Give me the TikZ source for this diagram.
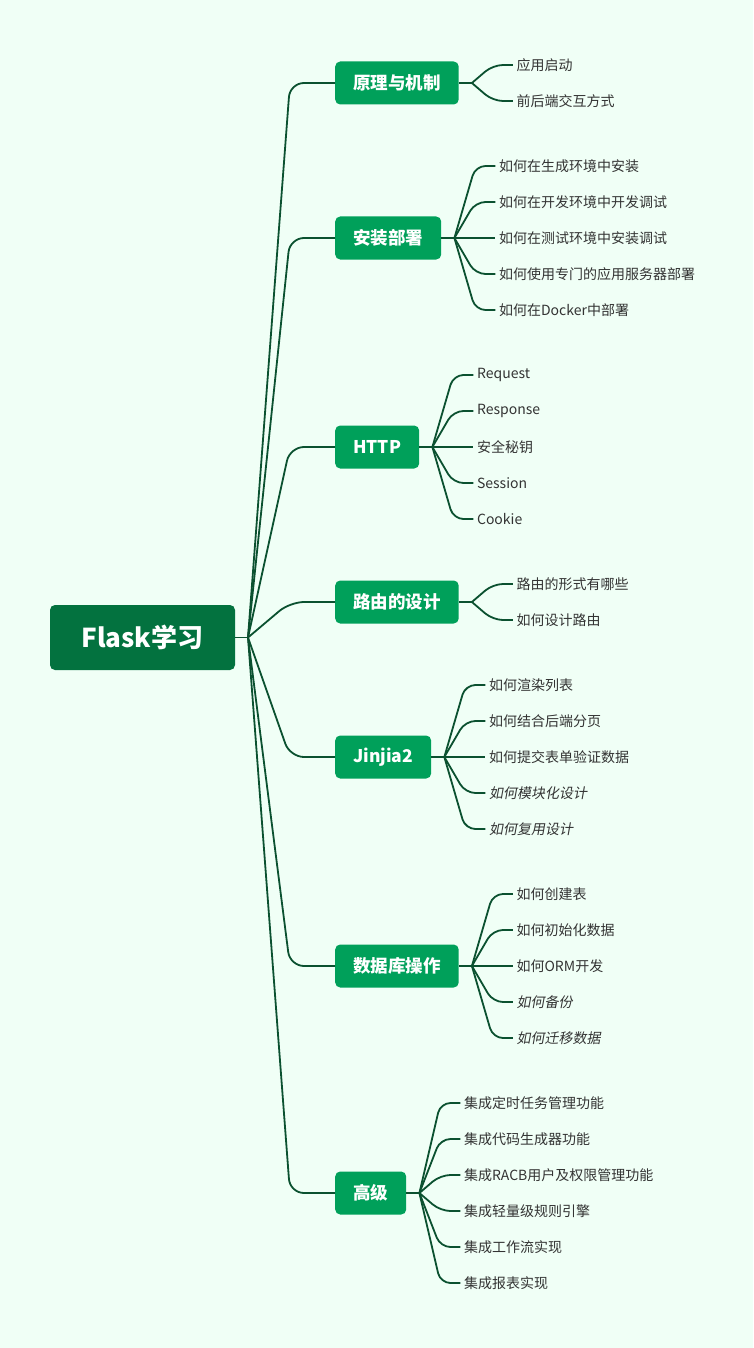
\documentclass[tikz,border=0pt]{standalone}
\usepackage{fontspec}
\setmainfont{Noto Sans CJK SC}
\newfontfamily\slantcjk[FakeSlant=0.18]{Noto Sans CJK SC}

\definecolor{bgmint}{HTML}{F0FFF6}
\definecolor{rootgreen}{HTML}{03723F}
\definecolor{branchgreen}{HTML}{00A05A}
\definecolor{linegreen}{HTML}{0B5130}
\definecolor{leaftext}{HTML}{333333}

\begin{document}
\begin{tikzpicture}[x=1pt,y=-1pt,
    root/.style={fill=rootgreen,rounded corners=5pt,minimum width=185pt,minimum height=65pt,
        text=white,font=\bfseries\fontsize{26}{30}\selectfont},
    branch/.style={fill=branchgreen,rounded corners=5pt,minimum height=43pt,inner xsep=18pt,
        anchor=west,text=white,font=\bfseries\fontsize{17.5}{21}\selectfont},
    leaf/.style={anchor=west,inner xsep=3.5pt,inner ysep=0pt,text=leaftext,
        font=\fontsize{14}{17}\selectfont},
    slant/.style={leaf,font=\slantcjk\fontsize{14}{17}\selectfont}]

    \fill[bgmint] (0,0) rectangle (753,1348);
    \useasboundingbox (0,0) rectangle (753,1348);

    % main topic and branches
    \node[root] (flask) at (142.5,637.5) {Flask学习};
    \coordinate (rj) at (248,637.5);
    \node[branch] (yuanli) at (335,83) {原理与机制};
    \node[branch] (anzhuang) at (335,238) {安装部署};
    \node[branch] (http) at (335,447) {HTTP};
    \node[branch] (luyou) at (335,602) {路由的设计};
    \node[branch] (jinjia) at (335,757) {Jinjia2};
    \node[branch] (shujuku) at (335,966) {数据库操作};
    \node[branch] (gaoji) at (335,1193) {高级};

    \coordinate (yuanlij) at ([xshift=13pt]yuanli.east);
    \coordinate (anzhuangj) at ([xshift=13pt]anzhuang.east);
    \coordinate (httpj) at ([xshift=13pt]http.east);
    \coordinate (luyouj) at ([xshift=13pt]luyou.east);
    \coordinate (jinjiaj) at ([xshift=13pt]jinjia.east);
    \coordinate (shujukuj) at ([xshift=13pt]shujuku.east);
    \coordinate (gaojij) at ([xshift=13pt]gaoji.east);

    % leaves
    \node[leaf] (yuanli1) at ([xshift=41pt]yuanlij |- 0,65) {应用启动};
    \node[leaf] (yuanli2) at ([xshift=41pt]yuanlij |- 0,101) {前后端交互方式};

    \node[leaf] (anzhuang1) at ([xshift=41pt]anzhuangj |- 0,166) {如何在生成环境中安装};
    \node[leaf] (anzhuang2) at ([xshift=41pt]anzhuangj |- 0,202) {如何在开发环境中开发调试};
    \node[leaf] (anzhuang3) at ([xshift=41pt]anzhuangj |- 0,238) {如何在测试环境中安装调试};
    \node[leaf] (anzhuang4) at ([xshift=41pt]anzhuangj |- 0,274) {如何使用专门的应用服务器部署};
    \node[leaf] (anzhuang5) at ([xshift=41pt]anzhuangj |- 0,310) {如何在Docker中部署};

    \node[leaf] (http1) at ([xshift=41pt]httpj |- 0,375) {Request};
    \node[leaf] (http2) at ([xshift=41pt]httpj |- 0,411) {Response};
    \node[leaf] (http3) at ([xshift=41pt]httpj |- 0,447) {安全秘钥};
    \node[leaf] (http4) at ([xshift=41pt]httpj |- 0,483) {Session};
    \node[leaf] (http5) at ([xshift=41pt]httpj |- 0,519) {Cookie};

    \node[leaf] (luyou1) at ([xshift=41pt]luyouj |- 0,584) {路由的形式有哪些};
    \node[leaf] (luyou2) at ([xshift=41pt]luyouj |- 0,620) {如何设计路由};

    \node[leaf] (jinjia1) at ([xshift=41pt]jinjiaj |- 0,685) {如何渲染列表};
    \node[leaf] (jinjia2) at ([xshift=41pt]jinjiaj |- 0,721) {如何结合后端分页};
    \node[leaf] (jinjia3) at ([xshift=41pt]jinjiaj |- 0,757) {如何提交表单验证数据};
    \node[slant] (jinjia4) at ([xshift=41pt]jinjiaj |- 0,793) {如何模块化设计};
    \node[slant] (jinjia5) at ([xshift=41pt]jinjiaj |- 0,829) {如何复用设计};

    \node[leaf] (shujuku1) at ([xshift=41pt]shujukuj |- 0,894) {如何创建表};
    \node[leaf] (shujuku2) at ([xshift=41pt]shujukuj |- 0,930) {如何初始化数据};
    \node[leaf] (shujuku3) at ([xshift=41pt]shujukuj |- 0,966) {如何ORM开发};
    \node[slant] (shujuku4) at ([xshift=41pt]shujukuj |- 0,1002) {如何备份};
    \node[slant] (shujuku5) at ([xshift=41pt]shujukuj |- 0,1038) {如何迁移数据};

    \node[leaf] (gaoji1) at ([xshift=41pt]gaojij |- 0,1103) {集成定时任务管理功能};
    \node[leaf] (gaoji2) at ([xshift=41pt]gaojij |- 0,1139) {集成代码生成器功能};
    \node[leaf] (gaoji3) at ([xshift=41pt]gaojij |- 0,1175) {集成RACB用户及权限管理功能};
    \node[leaf] (gaoji4) at ([xshift=41pt]gaojij |- 0,1211) {集成轻量级规则引擎};
    \node[leaf] (gaoji5) at ([xshift=41pt]gaojij |- 0,1247) {集成工作流实现};
    \node[leaf] (gaoji6) at ([xshift=41pt]gaojij |- 0,1283) {集成报表实现};

    % connectors
    \begin{scope}[draw=linegreen,line width=1.8pt,rounded corners=14pt]
        \draw (flask.east) -- (rj);
        \draw (rj) -- ([xshift=-45pt]yuanli.west) -- (yuanli.west);
        \draw (rj) -- ([xshift=-45pt]anzhuang.west) -- (anzhuang.west);
        \draw (rj) -- ([xshift=-45pt]http.west) -- (http.west);
        \draw (rj) -- ([xshift=-45pt]luyou.west) -- (luyou.west);
        \draw (rj) -- ([xshift=-45pt]jinjia.west) -- (jinjia.west);
        \draw (rj) -- ([xshift=-45pt]shujuku.west) -- (shujuku.west);
        \draw (rj) -- ([xshift=-45pt]gaoji.west) -- (gaoji.west);
    \end{scope}
    \begin{scope}[draw=linegreen,line width=1.8pt,rounded corners=10pt]
        \draw (yuanli.east) -- (yuanlij);
        \draw (yuanlij) -- ([xshift=-20pt]yuanli1.west) -- (yuanli1.west);
        \draw (yuanlij) -- ([xshift=-20pt]yuanli2.west) -- (yuanli2.west);

        \draw (anzhuang.east) -- (anzhuangj);
        \draw (anzhuangj) -- ([xshift=-20pt]anzhuang1.west) -- (anzhuang1.west);
        \draw (anzhuangj) -- ([xshift=-20pt]anzhuang2.west) -- (anzhuang2.west);
        \draw (anzhuangj) -- (anzhuang3.west);
        \draw (anzhuangj) -- ([xshift=-20pt]anzhuang4.west) -- (anzhuang4.west);
        \draw (anzhuangj) -- ([xshift=-20pt]anzhuang5.west) -- (anzhuang5.west);

        \draw (http.east) -- (httpj);
        \draw (httpj) -- ([xshift=-20pt]http1.west) -- (http1.west);
        \draw (httpj) -- ([xshift=-20pt]http2.west) -- (http2.west);
        \draw (httpj) -- (http3.west);
        \draw (httpj) -- ([xshift=-20pt]http4.west) -- (http4.west);
        \draw (httpj) -- ([xshift=-20pt]http5.west) -- (http5.west);

        \draw (luyou.east) -- (luyouj);
        \draw (luyouj) -- ([xshift=-20pt]luyou1.west) -- (luyou1.west);
        \draw (luyouj) -- ([xshift=-20pt]luyou2.west) -- (luyou2.west);

        \draw (jinjia.east) -- (jinjiaj);
        \draw (jinjiaj) -- ([xshift=-20pt]jinjia1.west) -- (jinjia1.west);
        \draw (jinjiaj) -- ([xshift=-20pt]jinjia2.west) -- (jinjia2.west);
        \draw (jinjiaj) -- (jinjia3.west);
        \draw (jinjiaj) -- ([xshift=-20pt]jinjia4.west) -- (jinjia4.west);
        \draw (jinjiaj) -- ([xshift=-20pt]jinjia5.west) -- (jinjia5.west);

        \draw (shujuku.east) -- (shujukuj);
        \draw (shujukuj) -- ([xshift=-20pt]shujuku1.west) -- (shujuku1.west);
        \draw (shujukuj) -- ([xshift=-20pt]shujuku2.west) -- (shujuku2.west);
        \draw (shujukuj) -- (shujuku3.west);
        \draw (shujukuj) -- ([xshift=-20pt]shujuku4.west) -- (shujuku4.west);
        \draw (shujukuj) -- ([xshift=-20pt]shujuku5.west) -- (shujuku5.west);

        \draw (gaoji.east) -- (gaojij);
        \draw (gaojij) -- ([xshift=-20pt]gaoji1.west) -- (gaoji1.west);
        \draw (gaojij) -- ([xshift=-20pt]gaoji2.west) -- (gaoji2.west);
        \draw (gaojij) -- ([xshift=-20pt]gaoji3.west) -- (gaoji3.west);
        \draw (gaojij) -- ([xshift=-20pt]gaoji4.west) -- (gaoji4.west);
        \draw (gaojij) -- ([xshift=-20pt]gaoji5.west) -- (gaoji5.west);
        \draw (gaojij) -- ([xshift=-20pt]gaoji6.west) -- (gaoji6.west);
    \end{scope}
\end{tikzpicture}
\end{document}
